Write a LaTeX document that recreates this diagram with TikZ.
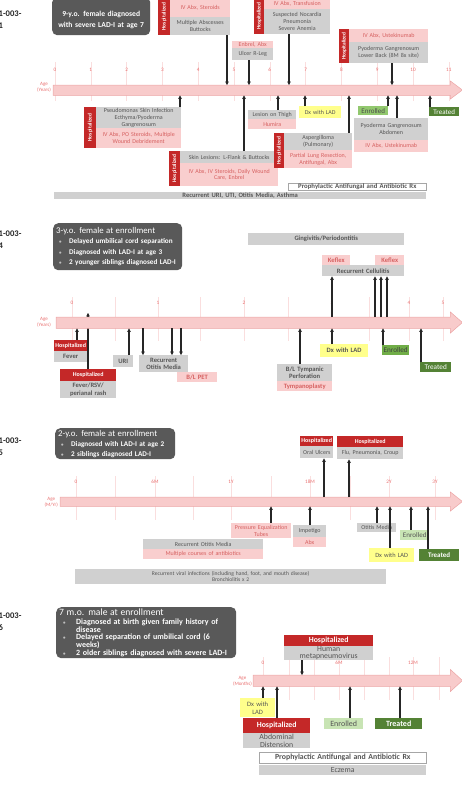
\documentclass[tikz,border=0pt]{standalone}
\usepackage{fontspec}
\setmainfont{Carlito}
\usepackage{graphicx}
\usetikzlibrary{arrows.meta}

\definecolor{hospred}{RGB}{196,40,40}
\definecolor{boxgray}{RGB}{208,208,208}
\definecolor{txtgray}{RGB}{85,85,85}
\definecolor{boxpink}{RGB}{249,206,206}
\definecolor{txtpink}{RGB}{214,96,96}
\definecolor{dxyellow}{RGB}{255,255,140}
\definecolor{enrmid}{RGB}{146,200,110}
\definecolor{enrdark}{RGB}{112,173,71}
\definecolor{enrlight}{RGB}{200,228,180}
\definecolor{trtgreen}{RGB}{84,130,53}
\definecolor{infogray}{RGB}{89,89,89}
\definecolor{barpink}{RGB}{248,203,203}
\definecolor{baredge}{RGB}{236,165,165}
\definecolor{tickpink}{RGB}{232,110,110}
\definecolor{gridpink}{RGB}{250,222,222}

\newcommand{\fsz}[2]{\fontsize{#1}{#2}\selectfont}
\newcommand{\bul}[1]{\makebox[#1][l]{\textcolor{black!25}{\fsz{5}{5}\textbullet}}}

\begin{document}
\begin{tikzpicture}[x=1pt, y=-1pt]
  \tikzset{
    ev/.style={anchor=north west, inner sep=0pt, align=center, font=\evsize},
    wh/.style 2 args={minimum width=#1pt, text width=#1pt, minimum height=#2pt},
    gbox/.style={ev, fill=boxgray, text=txtgray},
    pbox/.style={ev, fill=boxpink, text=txtpink},
    hbox/.style={ev, fill=hospred, text=white, font=\hospsize\bfseries},
    hvert/.style={ev, fill=hospred, text=white, font=\fsz{5.4}{6}\bfseries},
    dxbox/.style={ev, fill=dxyellow, text=txtgray},
    enrbox/.style={ev, fill=enrlight, text=txtgray, font=\tagsize},
    trtbox/.style={ev, fill=trtgreen, text=white, font=\tagsize},
    rxbox/.style={ev, fill=white, draw=black!35, line width=0.6pt, text=txtgray},
    infobox/.style={anchor=north west, fill=infogray, text=white, rounded corners=5pt,
      inner xsep=3pt, inner ysep=0pt},
    idlabel/.style={anchor=north west, inner sep=0pt, align=left, text=black!85,
      font=\fsz{8.6}{11.5}\bfseries},
    agelabel/.style={anchor=east, inner sep=0pt, align=center, text=tickpink, font=\fsz{5}{5.6}},
    ticklabel/.style={inner sep=0pt, text=tickpink, font=\fsz{5.2}{6}},
    shaft/.style={anchor=north west, inner sep=0pt},
    tbar/.style={fill=barpink, draw=baredge, line width=0.5pt},
    gridline/.style={draw=gridpink, line width=0.5pt},
    evt/.style={draw=black!85, line width=1.1pt, -{Stealth[length=3.6pt, width=3.8pt]}}
  }
  \useasboundingbox (0,0) rectangle (462,785);

  % --- patient 01 ---
  \begin{scope}
    \def\evsize{\fsz{6}{6.8}}
    \def\hospsize{\fsz{6}{7}}
    \def\tagsize{\fsz{7}{8}}
    \node[idlabel] (id1) at (-1.5,11) {1-003-\\1};
    \node[infobox, minimum width=98pt, minimum height=38pt, text width=92pt, align=center,
      font=\fsz{7.6}{11}\bfseries] (info1) at (52,-3)
      {\rule{0pt}{13pt}9-y.o. female diagnosed\\with severe LAD-I at age 7};
    \foreach \k in {0,...,11}
      \draw[gridline] (55+35.8*\k,62) -- (55+35.8*\k,101);
    \node[shaft, minimum width=397pt, minimum height=10pt] (bar1) at (53,85) {};
    \filldraw[tbar] (bar1.north west) -- (bar1.north east) -- ++(0,-4) -- ++(12,9)
      -- ++(-12,9) -- (bar1.south east) -- (bar1.south west) -- cycle;
    \foreach \k in {0,...,11}
      \node[ticklabel] (t1-\k) at (55+35.8*\k,70) {\k};
    \node[agelabel] (age1) at (51,87) {Age\\(Years)};

    \node[hvert, wh={12}{37}] (h1a) at (158,-2) {\rotatebox{90}{Hospitalized}};
    \node[pbox, wh={60}{19}] (rx1a) at (170,-2) {IV Abx, Steroids};
    \node[gbox, wh={60}{18}] (dx1a) at (170,17) {Multiple Abscesses\\Buttocks};
    \node[pbox, wh={41}{7}] (rx1b) at (232,41) {Enbrel, Abx};
    \node[gbox, wh={41}{12}] (dx1b) at (232,48) {Ulcer R-Leg};
    \node[hvert, wh={10}{36}] (h1c) at (254,-2) {\rotatebox{90}{Hospitalized}};
    \node[pbox, wh={66}{11}] (rx1c) at (264,-2) {IV Abx, Transfusion};
    \node[gbox, wh={66}{25}] (dx1c) at (264,9) {Suspected Nocardia\\Pneumonia\\Severe Anemia};
    \node[hvert, wh={10}{34}] (h1d) at (339,29) {\rotatebox{90}{Hospitalized}};
    \node[pbox, wh={79}{13}] (rx1d) at (349,29) {IV Abx, Ustekinumab};
    \node[gbox, wh={79}{21}] (dx1d) at (349,42) {Pyoderma Gangrenosum\\Lower Back (8M 8x site)};

    \node[hvert, wh={12}{41}] (h1e) at (84,107) {\rotatebox{90}{Hospitalized}};
    \node[gbox, wh={85}{21}] (dx1e) at (96,107) {Pseudomonas Skin Infection\\Ecthyma/Pyoderma\\Gangrenosum};
    \node[pbox, wh={85}{20}] (rx1e) at (96,128) {IV Abx, PO Steroids, Multiple\\Wound Debridement};
    \node[hvert, wh={11}{35}] (h1f) at (169,151) {\rotatebox{90}{Hospitalized}};
    \node[gbox, wh={98}{12}] (dx1f) at (180,151) {Skin Lesions: L-Flank \& Buttocks};
    \node[pbox, wh={98}{23}] (rx1f) at (180,163) {IV Abx, IV Steroids, Daily Wound\\Care, Enbrel};
    \node[gbox, wh={48}{9}] (dx1g) at (248,110) {Lesion on Thigh};
    \node[pbox, wh={48}{10}] (rx1g) at (248,119) {Humira};
    \node[dxbox, wh={42}{12}] (lad1) at (299,106) {Dx with LAD};
    \node[hvert, wh={10}{35}] (h1h) at (274,133) {\rotatebox{90}{Hospitalized}};
    \node[gbox, wh={68}{17}] (dx1h) at (284,133) {Aspergilloma\\(Pulmonary)};
    \node[pbox, wh={68}{18}] (rx1h) at (284,150) {Partial Lung Resection,\\Antifungal, Abx};
    \node[enrbox, fill=enrmid, text=black!70, wh={30}{9}] (enr1) at (358,106) {Enrolled};
    \node[gbox, wh={74}{22}] (dx1i) at (354,118) {Pyoderma Gangrenosum\\Abdomen};
    \node[pbox, wh={74}{12}] (rx1i) at (354,140) {IV Abx, Ustekinumab};
    \node[trtbox, wh={30}{9}] (trt1) at (429,107) {Treated};
    \node[rxbox, wh={138}{7}, font=\fsz{6.8}{7}\bfseries] (proph1) at (288,183) {Prophylactic Antifungal and Antibiotic Rx};
    \node[gbox, wh={372}{7}, font=\fsz{6.6}{7}\bfseries] (hist1) at (54,192) {Recurrent URI, UTI, Otitis Media, Asthma};

    \draw[evt] (dx1a.south -| 227,0) -- (bar1.north -| 227,0);
    \draw[evt] (dx1b.south -| 249,0) -- (bar1.north -| 249,0);
    \draw[evt] (dx1c.south -| 289,0) -- (bar1.north -| 289,0);
    \draw[evt] (dx1d.south -| 392,0) -- (bar1.north -| 392,0);
    \draw[evt] (dx1e.north -| 180,0) -- (bar1.south -| 180,0);
    \draw[evt] (dx1f.north -| 244,0) -- (bar1.south -| 244,0);
    \draw[evt] (dx1g.north -| 278,0) -- (bar1.south -| 278,0);
    \draw[evt] (lad1.north -| 305,0) -- (bar1.south -| 305,0);
    \draw[evt] (dx1h.north -| 349,0) -- (bar1.south -| 349,0);
    \draw[evt] (enr1.north -| 388,0) -- (bar1.south -| 388,0);
    \draw[evt] (dx1i.north -| 397,0) -- (bar1.south -| 397,0);
    \draw[evt] (trt1.north -| 430,0) -- (bar1.south -| 430,0);
  \end{scope}

  % --- patient 04 ---
  \begin{scope}
    \def\evsize{\fsz{6.6}{7.4}\bfseries}
    \def\hospsize{\fsz{6}{7}}
    \def\tagsize{\fsz{7.2}{8}}
    \node[idlabel] (id2) at (-1.5,231) {1-003-\\4};
    \node[infobox, minimum width=129pt, minimum height=47pt, text width=123pt, align=left,
      font=\fsz{7.2}{10.5}\bfseries] (info2) at (53,223)
      {{\mdseries\fsz{8.8}{10.5}3-y.o. female at enrollment}\\
       \hspace*{3pt}\bul{10pt}Delayed umbilical cord separation\\
       \hspace*{3pt}\bul{10pt}Diagnosed with LAD-I at age 3\\
       \hspace*{3pt}\bul{10pt}2 younger siblings diagnosed LAD-I};
    \foreach \x in {72,115,158,200,244,288,332,369,409,443}
      \draw[gridline] (\x,297) -- (\x,341);
    \coordinate (up2) at (88,313);
    \node[hbox, wh={56}{12}] (h2b) at (60,369) {Hospitalized};
    \node[gbox, wh={56}{17}] (dx2b) at (60,381) {Fever/RSV/\\perianal rash};
    \draw[evt] (h2b.north -| up2) -- (up2);
    \node[shaft, minimum width=394pt, minimum height=11pt] (bar2) at (56,317) {};
    \filldraw[tbar] (bar2.north west) -- (bar2.north east) -- ++(0,-5) -- ++(12,10.5)
      -- ++(-12,10.5) -- (bar2.south east) -- (bar2.south west) -- cycle;
    \foreach \x/\t [count=\i] in {72/0,158/1,244/2,332/3,409/4,443/5}
      \node[ticklabel] (t2-\i) at (\x,303) {\t};
    \node[agelabel] (age2) at (51,322) {Age\\(Years)};

    \node[gbox, wh={156}{12}] (ging2) at (248,233) {Gingivitis/Periodontitis};
    \node[pbox, wh={28}{10}] (kef2a) at (322,255) {Keflex};
    \node[pbox, wh={29}{10}] (kef2b) at (375,255) {Keflex};
    \node[gbox, wh={82}{11}] (cell2) at (322,265) {Recurrent Cellulitis};

    \node[hbox, wh={33}{11}] (h2a) at (54,340) {Hospitalized};
    \node[gbox, wh={33}{11}] (dx2a) at (54,351) {Fever};
    \node[gbox, wh={20}{12}] (uri2) at (113,355) {URI};
    \node[gbox, wh={49}{17}] (otm2) at (139,355) {Recurrent\\Otitis Media};
    \node[pbox, wh={40}{10}] (pet2) at (177,372) {B/L PET};
    \node[gbox, wh={55}{17}] (tym2) at (277,364) {B/L Tympanic\\Perforation};
    \node[pbox, wh={55}{10}] (tpl2) at (277,381) {Tympanoplasty};
    \node[dxbox, wh={48}{13}] (lad2) at (320,344) {Dx with LAD};
    \node[enrbox, fill=enrdark, text=black!75, wh={27}{10}] (enr2) at (382,345) {Enrolled};
    \node[trtbox, wh={31}{10}] (trt2) at (420,362) {Treated};

    \draw[evt] (bar2.north -| 332,0) -- (cell2.south -| 332,0);
    \foreach \x in {375,381,387}
      \draw[evt] (bar2.north -| \x,0) -- (cell2.south -| \x,0);
    \draw[evt] (h2a.north -| 77,0) -- (bar2.south -| 77,0);
    \draw[evt] (uri2.north -| 129,0) -- (bar2.south -| 129,0);
    \foreach \x in {143,172,181}
      \draw[evt] (bar2.south -| \x,0) -- (otm2.north -| \x,0);
    \draw[evt] (tym2.north -| 300,0) -- (bar2.south -| 300,0);
    \draw[evt] (lad2.north -| 332,0) -- (bar2.south -| 332,0);
    \draw[evt] (enr2.north -| 383,0) -- (bar2.south -| 383,0);
    \draw[evt] (trt2.north -| 421,0) -- (bar2.south -| 421,0);
  \end{scope}

  % --- patient 05 ---
  \begin{scope}
    \def\evsize{\fsz{6}{6.8}}
    \def\hospsize{\fsz{6}{7}}
    \def\tagsize{\fsz{7}{8}}
    \node[idlabel] (id3) at (-1.5,438) {1-003-\\5};
    \node[infobox, minimum width=120pt, minimum height=31pt, text width=114pt, align=left,
      font=\fsz{7.2}{10}\bfseries] (info3) at (55,428)
      {{\mdseries\fsz{8.8}{10}2-y.o. female at enrollment}\\
       \hspace*{3pt}\bul{10pt}Diagnosed with LAD-I at age 2\\
       \hspace*{3pt}\bul{10pt}2 siblings diagnosed LAD-I};
    \foreach \x in {76,115,155,193,231,271,310,350,389,435}
      \draw[gridline] (\x,476) -- (\x,520);
    \node[shaft, minimum width=390pt, minimum height=9pt] (bar3) at (60,497) {};
    \filldraw[tbar] (bar3.north west) -- (bar3.north east) -- ++(0,-5) -- ++(12,9.5)
      -- ++(-12,9.5) -- (bar3.south east) -- (bar3.south west) -- cycle;
    \foreach \x/\t [count=\i] in {76/0,155/6M,231/1Y,310/18M,389/2Y,435/3Y}
      \node[ticklabel] (t3-\i) at (\x,482) {\t};
    \node[agelabel] (age3) at (58,502) {Age\\(M/Yr)};

    \node[hbox, wh={33}{10}] (h3a) at (300,436) {Hospitalized};
    \node[gbox, wh={33}{12}] (dx3a) at (300,446) {Oral Ulcers};
    \node[hbox, wh={66}{11}] (h3b) at (337,436) {Hospitalized};
    \node[gbox, wh={66}{12}] (dx3b) at (337,447) {Flu, Pneumonia, Croup};

    \node[pbox, wh={60}{15}] (pet3) at (231,523) {Pressure Equalization\\Tubes};
    \node[gbox, wh={33}{12}] (imp3) at (293,525) {Impetigo};
    \node[pbox, wh={33}{10}] (abx3) at (293,537) {Abx};
    \node[gbox, wh={39}{9}] (otm3) at (357,523) {Otitis Media};
    \node[dxbox, wh={45}{14}, font=\fsz{6.4}{7}] (lad3) at (369,548) {Dx with LAD};
    \node[enrbox, wh={29}{10}] (enr3) at (400,530) {Enrolled};
    \node[trtbox, wh={40}{12}, font=\tagsize\bfseries] (trt3) at (419,549) {Treated};
    \node[gbox, wh={120}{10}] (rom3) at (143,539) {Recurrent Otitis Media};
    \node[pbox, wh={120}{10}] (mca3) at (143,549) {Multiple courses of antibiotics};
    \node[gbox, wh={311}{15}, font=\fsz{5.6}{6.4}] (vir3) at (75,569)
      {Recurrent viral infections (including hand, foot, and mouth disease)\\Bronchiolitis x 2};

    \draw[evt] (bar3.north -| 324,0) -- (dx3a.south -| 324,0);
    \draw[evt] (bar3.north -| 349,0) -- (dx3b.south -| 349,0);
    \draw[evt] (pet3.north -| 271,0) -- (bar3.south -| 271,0);
    \draw[evt] (imp3.north -| 310,0) -- (bar3.south -| 310,0);
    \draw[evt] (otm3.north -| 377,0) -- (bar3.south -| 377,0);
    \draw[evt] (lad3.north -| 390,0) -- (bar3.south -| 390,0);
    \draw[evt] (enr3.north -| 411,0) -- (bar3.south -| 411,0);
    \draw[evt] (trt3.north -| 428,0) -- (bar3.south -| 428,0);
  \end{scope}

  % --- patient 06 ---
  \begin{scope}
    \def\evsize{\fsz{7.8}{7.6}}
    \def\hospsize{\fsz{7.8}{8}}
    \def\tagsize{\fsz{8}{8.5}}
    \node[idlabel] (id4) at (-1.5,613) {1-003-\\6};
    \node[infobox, minimum width=180pt, minimum height=51pt, text width=174pt, align=left,
      font=\fsz{8}{7.9}\bfseries] (info4) at (56,607)
      {{\mdseries\fsz{9.6}{7.9}7 m.o. male at enrollment}\\[1.2pt]
       \hspace*{4pt}\bul{13pt}Diagnosed at birth given family history of\\
       \hspace*{17pt}disease\\
       \hspace*{4pt}\bul{13pt}Delayed separation of umbilical cord (6\\
       \hspace*{17pt}weeks)\\
       \hspace*{4pt}\bul{13pt}2 older siblings diagnosed with severe LAD-I};
    \foreach \x in {263,289,314,339,364,389,413,439}
      \draw[gridline] (\x,657) -- (\x,700);
    \node[shaft, minimum width=197pt, minimum height=11pt] (bar4) at (253,675) {};
    \filldraw[tbar] (bar4.north west) -- (bar4.north east) -- ++(0,-5.5) -- ++(12,11)
      -- ++(-12,11) -- (bar4.south east) -- (bar4.south west) -- cycle;
    \foreach \x/\t [count=\i] in {263/0,339/6M,413/12M}
      \node[ticklabel] (t4-\i) at (\x,663) {\t};
    \node[agelabel] (age4) at (252,681) {Age\\(Months)};

    \node[hbox, wh={89}{11}] (h4a) at (284,635) {Hospitalized};
    \node[gbox, wh={89}{14}] (dx4a) at (284,646) {Human\\metapneumovirus};
    \node[dxbox, wh={35}{19}, font=\fsz{6.6}{8}] (lad4) at (240,698) {Dx with\\LAD};
    \node[hbox, wh={67}{15}] (h4b) at (243,718) {Hospitalized};
    \node[gbox, wh={67}{15}] (dx4b) at (243,733) {Abdominal\\Distension};
    \node[enrbox, wh={39}{11}] (enr4) at (324,718) {Enrolled};
    \node[trtbox, wh={47}{11}, font=\tagsize\bfseries] (trt4) at (375,718) {Treated};
    \node[rxbox, wh={167}{11}, font=\fsz{7.8}{8}\bfseries] (proph4) at (259,752) {Prophylactic Antifungal and Antibiotic Rx};
    \node[gbox, wh={167}{10}] (ecz4) at (259,765) {Eczema};

    \draw[evt] (dx4a.south -| 302,0) -- (bar4.north -| 302,0);
    \draw[evt] (lad4.north -| 263,0) -- (bar4.south -| 263,0);
    \draw[evt] (h4b.north -| 277,0) -- (bar4.south -| 277,0);
    \draw[evt] (enr4.north -| 350,0) -- (bar4.south -| 350,0);
    \draw[evt] (trt4.north -| 400,0) -- (bar4.south -| 400,0);
  \end{scope}
\end{tikzpicture}
\end{document}
